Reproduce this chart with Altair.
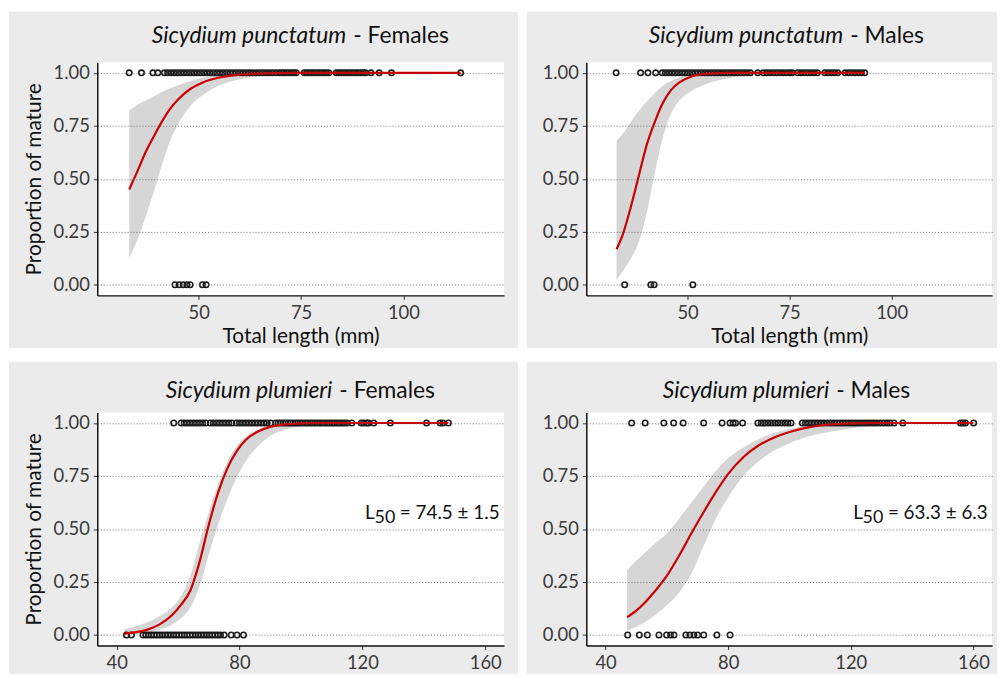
import altair as alt
import pandas as pd

# ---------------- data ----------------
# Sicydium punctatum - Females
spf_mature = [33, 36, 38.8, 40, 41.6, 42.4, 43.2, 44, 44.8, 45.6, 46.4, 47.2, 48, 48.8, 49.6, 50.4,
              51.2, 52, 52.8, 53.6, 54.4, 55.2, 56, 56.8, 57.6, 58.4, 59.2, 60, 60.8, 61.6, 62.4, 63.2,
              64, 64.8, 65.6, 66.4, 67.2, 68, 68.8, 69.6, 70.2, 70.8, 71.4, 72, 72.6, 73.2, 73.8, 75.8,
              76.4, 77, 77.6, 78.2, 78.8, 79.4, 80, 80.6, 81.2, 81.8, 83.6, 84.2, 84.8, 85.4, 86, 86.6,
              87.2, 87.8, 88.4, 89, 89.6, 90.2, 90.8, 92.1, 94.1, 97.1, 114]
spf_immature = [44.2, 45.2, 46.2, 47.1, 47.9, 50.9, 51.8]
spf_fit_len = [33, 35, 37, 39, 41, 43, 45, 48, 51, 55, 60, 66, 74, 85, 114]
spf_fit_p = [0.45, 0.535, 0.625, 0.70, 0.77, 0.83, 0.875, 0.925, 0.955, 0.978, 0.992, 0.998, 1.0, 1.0, 1.0]
spf_fit_lo = [0.129, 0.21, 0.32, 0.44, 0.565, 0.68, 0.76, 0.845, 0.895, 0.94, 0.97, 0.986, 0.997, 1.0, 1.0]
spf_fit_hi = [0.822, 0.85, 0.868, 0.89, 0.91, 0.927, 0.942, 0.962, 0.977, 0.988, 0.997, 1.0, 1.0, 1.0, 1.0]

# Sicydium punctatum - Males
spm_mature = [32.5, 38.5, 40.3, 42.2, 43.8, 44.6, 45.4, 46.2, 47, 47.8, 48.6, 49.4, 50.2, 51, 51.8,
              52.6, 53.4, 54.2, 55, 55.8, 56.6, 57.4, 58.2, 59, 59.8, 60.6, 61.4, 62.2, 63, 63.8, 64.6,
              65.4, 67.2, 68.6, 69.4, 70.2, 71, 71.8, 72.6, 73.4, 74.2, 75, 75.6, 77, 77.8, 78.6, 79.4,
              80.2, 81, 81.8, 83.6, 84.4, 85.2, 86, 86.8, 88.6, 89.4, 90.2, 91, 91.8, 92.6, 93.4]
spm_immature = [34.6, 41.0, 41.8, 51.3]
spm_fit_len = [32.6, 34, 36, 38, 40, 42, 44, 46, 48, 51, 55, 60, 68, 93.4]
spm_fit_p = [0.168, 0.23, 0.36, 0.51, 0.66, 0.77, 0.86, 0.92, 0.955, 0.983, 0.996, 1.0, 1.0, 1.0]
spm_fit_lo = [0.023, 0.06, 0.12, 0.2, 0.34, 0.53, 0.70, 0.81, 0.87, 0.915, 0.95, 0.975, 0.995, 1.0]
spm_fit_hi = [0.678, 0.71, 0.765, 0.82, 0.865, 0.905, 0.94, 0.962, 0.978, 0.99, 0.998, 1.0, 1.0, 1.0]

# Sicydium plumieri - Females
ppf_mature = [58.6, 61, 62, 63, 64, 65, 66, 67, 68, 69, 70.5, 71.5, 72.5, 73.5, 74.5, 75.5, 76.5,
              77.5, 79, 80, 81, 82, 83, 84, 85, 86, 87, 88, 89, 90.2, 91.8, 92.6, 93.4, 94.2, 95,
              95.8, 96.6, 97.4, 98.2, 99, 99.8, 100.6, 101.4, 102.2, 103, 103.8, 104.6, 105.4, 106.2,
              107, 107.8, 108.6, 109.4, 110.2, 111, 111.8, 112.6, 113.4, 114.2, 115, 116.6, 119.6,
              120.4, 121.4, 122, 123.7, 129.1, 140.9, 145.3, 146.2, 148]
ppf_immature = [43.2, 44.8, 48.6, 49.5, 50.4, 51.3, 52.2, 53.1, 54, 54.9, 55.8, 56.7, 57.6, 58.5,
                59.4, 60.3, 61.2, 62.1, 63, 63.9, 64.8, 65.7, 66.6, 67.5, 68.4, 69.3, 70.2, 71.1, 72,
                72.9, 73.8, 75, 77.3, 79.2, 81.3]
ppf_fit_len = [42.5, 46, 50, 54, 58, 61, 64, 67, 70, 73, 76, 79, 82, 86, 90, 95, 100, 105, 148]
ppf_fit_p = [0.006, 0.012, 0.025, 0.05, 0.093, 0.143, 0.21, 0.345, 0.52, 0.67, 0.785, 0.865, 0.92,
             0.96, 0.982, 0.994, 0.998, 1.0, 1.0]
ppf_fit_lo = [0.0, 0.003, 0.01, 0.024, 0.048, 0.08, 0.13, 0.23, 0.38, 0.52, 0.64, 0.74, 0.82, 0.89,
              0.94, 0.97, 0.985, 0.994, 1.0]
ppf_fit_hi = [0.027, 0.04, 0.06, 0.09, 0.13, 0.185, 0.28, 0.435, 0.58, 0.71, 0.815, 0.89, 0.935, 0.97,
              0.988, 0.997, 1.0, 1.0, 1.0]

# Sicydium plumieri - Males
ppm_mature = [48.5, 52.9, 59.0, 62.2, 65.3, 72.0, 78.0, 80.6, 81.6, 82.4, 84.7, 89.7, 90.8, 91.9, 93,
              94.1, 95.2, 96.3, 97.4, 98.5, 99.5, 100.5, 104.2, 105.2, 106.2, 107.2, 108.2, 109.2,
              110.2, 111.2, 112.3, 113.4, 114.5, 115.5, 116.5, 117.5, 118.5, 119.5, 120.5, 121.5,
              122.5, 123.5, 124.5, 125.5, 126.5, 127.5, 128.5, 129.6, 130.7, 131.8, 132.8, 134.1,
              137.0, 155.8, 156.6, 157.4, 160.1]
ppm_immature = [47.2, 51, 53.6, 57.4, 59.9, 61.2, 62.3, 66.2, 67.5, 68.8, 70, 72, 76.3, 80.6]
ppm_fit_len = [47, 50, 53, 56, 60, 64, 68, 72, 76, 80, 85, 90, 95, 100, 107, 118, 128, 139, 160]
ppm_fit_p = [0.084, 0.115, 0.156, 0.205, 0.28, 0.375, 0.48, 0.58, 0.675, 0.76, 0.84, 0.895, 0.932,
             0.958, 0.982, 0.997, 1.0, 1.0, 1.0]
ppm_fit_lo = [0.022, 0.038, 0.062, 0.092, 0.14, 0.20, 0.29, 0.42, 0.55, 0.65, 0.75, 0.82, 0.87, 0.905,
              0.94, 0.97, 0.989, 1.0, 1.0]
ppm_fit_hi = [0.307, 0.35, 0.39, 0.43, 0.48, 0.55, 0.625, 0.70, 0.775, 0.835, 0.885, 0.925, 0.953,
              0.972, 0.988, 0.998, 1.0, 1.0, 1.0]

y_ticks = [0, 0.25, 0.5, 0.75, 1.0]
top_x_ticks = [50, 75, 100]
bottom_x_ticks = [40, 80, 120, 160]
top_x_domain = [25.2, 124.6]
bottom_x_domain = [33.7, 166.1]

FONT = "Lato"
PANEL_BG = "#ebebeb"


def single():
    return pd.DataFrame({"k": [0]})


def panel(mature, immature, fit_len, fit_p, fit_lo, fit_hi, xdom, xticks, W, H, rect,
          italic, normal, tx, ty, xtitle, ytitle, l50=None):
    pts = pd.DataFrame({"len": list(mature) + list(immature),
                        "mat": [1.0] * len(mature) + [0.0] * len(immature)})
    fit = pd.DataFrame({"len": fit_len, "mat": fit_p, "lo": fit_lo, "hi": fit_hi})
    xs = alt.Scale(domain=xdom, nice=False, zero=False)
    ys = alt.Scale(domain=[-0.05, 1.05], nice=False, zero=False)
    common = dict(labelFont=FONT, labelFontSize=18.5, labelColor="#3a3a3a",
                  titleFont=FONT, titleFontSize=21, titleFontWeight="normal", titleColor="#111111",
                  domainColor="#111111", domainWidth=1.5, tickColor="#333333", tickSize=4,
                  tickWidth=1, zindex=1)
    xa = alt.Axis(values=xticks, title=xtitle, grid=False, labelPadding=4, titlePadding=4, **common)
    ya = alt.Axis(values=y_ticks, format=".2f", title=ytitle, grid=True, gridColor="#555555",
                  gridDash=[1, 2], gridWidth=0.8, labelPadding=4, titlePadding=9, **common)

    bg = alt.Chart(single()).mark_rect(color=PANEL_BG).encode(
        x=alt.value(rect[0]), x2=alt.value(rect[1]), y=alt.value(rect[2]), y2=alt.value(rect[3]))
    white = alt.Chart(single()).mark_rect(color="white").encode(
        x=alt.value(0), x2=alt.value(W), y=alt.value(0), y2=alt.value(H))
    band = alt.Chart(fit).mark_area(color="#999999", opacity=0.4, interpolate="monotone").encode(
        x=alt.X("len:Q", scale=xs, axis=xa),
        y=alt.Y("lo:Q", scale=ys, axis=ya),
        y2="hi:Q")
    dots = alt.Chart(pts).mark_point(shape="circle", filled=False, color="#1a1a1a", size=30,
                                     strokeWidth=1.6, opacity=1).encode(
        x=alt.X("len:Q", scale=xs, axis=xa),
        y=alt.Y("mat:Q", scale=ys, axis=ya))
    curve = alt.Chart(fit).mark_line(color="#cc0000", strokeWidth=2.2, interpolate="monotone").encode(
        x=alt.X("len:Q", scale=xs, axis=xa),
        y=alt.Y("mat:Q", scale=ys, axis=ya))
    t1 = alt.Chart(single()).mark_text(text=italic, font=FONT, fontSize=23, fontStyle="italic",
                                       align="right", baseline="alphabetic", color="#111111").encode(
        x=alt.value(tx), y=alt.value(ty))
    t2 = alt.Chart(single()).mark_text(text=normal, font=FONT, fontSize=23, align="left",
                                       baseline="alphabetic", color="#111111").encode(
        x=alt.value(tx + 7), y=alt.value(ty))
    layers = [bg, white, band, dots, curve, t1, t2]
    if l50 is not None:
        lx, txt = l50
        layers.append(alt.Chart(single()).mark_text(text="L", font=FONT, fontSize=19, align="left",
                                                    baseline="alphabetic", color="#111111").encode(
            x=alt.value(lx), y=alt.value(107)))
        layers.append(alt.Chart(single()).mark_text(text="50", font=FONT, fontSize=18, align="left",
                                                    baseline="alphabetic", color="#111111").encode(
            x=alt.value(lx + 9.5), y=alt.value(111)))
        layers.append(alt.Chart(single()).mark_text(text=txt, font=FONT, fontSize=19, align="left",
                                                    baseline="alphabetic", color="#111111").encode(
            x=alt.value(lx + 35), y=alt.value(107)))
    return alt.layer(*layers).properties(width=W, height=H)


tl = panel(spf_mature, spf_immature, spf_fit_len, spf_fit_p, spf_fit_lo, spf_fit_hi,
           top_x_domain, top_x_ticks, 410, 235, (-89, 424, -51, 288),
           "Sicydium punctatum", "- Females", 251, -19, "Total length (mm)", "Proportion of mature")
tr = panel(spm_mature, spm_immature, spm_fit_len, spm_fit_p, spm_fit_lo, spm_fit_hi,
           top_x_domain, top_x_ticks, 409, 235, (-60, 414, -51, 288),
           "Sicydium punctatum", "- Males", 259, -19, "Total length (mm)", None)
bl = panel(ppf_mature, ppf_immature, ppf_fit_len, ppf_fit_p, ppf_fit_lo, ppf_fit_hi,
           bottom_x_domain, bottom_x_ticks, 410, 235, (-89, 424, -51, 264),
           "Sicydium plumieri", "- Females", 237, -15, None, "Proportion of mature",
           l50=(270, "= 74.5 ± 1.5"))
br = panel(ppm_mature, ppm_immature, ppm_fit_len, ppm_fit_p, ppm_fit_lo, ppm_fit_hi,
           bottom_x_domain, bottom_x_ticks, 409, 235, (-60, 414, -51, 264),
           "Sicydium plumieri", "- Males", 245, -15, None, None,
           l50=(269, "= 63.3 ± 6.3"))

chart = alt.concat(tl, tr, bl, br, columns=2, spacing={"row": 14, "column": 9}).properties(
    padding={"left": 1, "top": 1, "right": 0, "bottom": 0},
    background="white",
).configure_view(strokeWidth=0, fill="white")

chart.save("out.html", embed_options={"renderer": "svg", "actions": False})
